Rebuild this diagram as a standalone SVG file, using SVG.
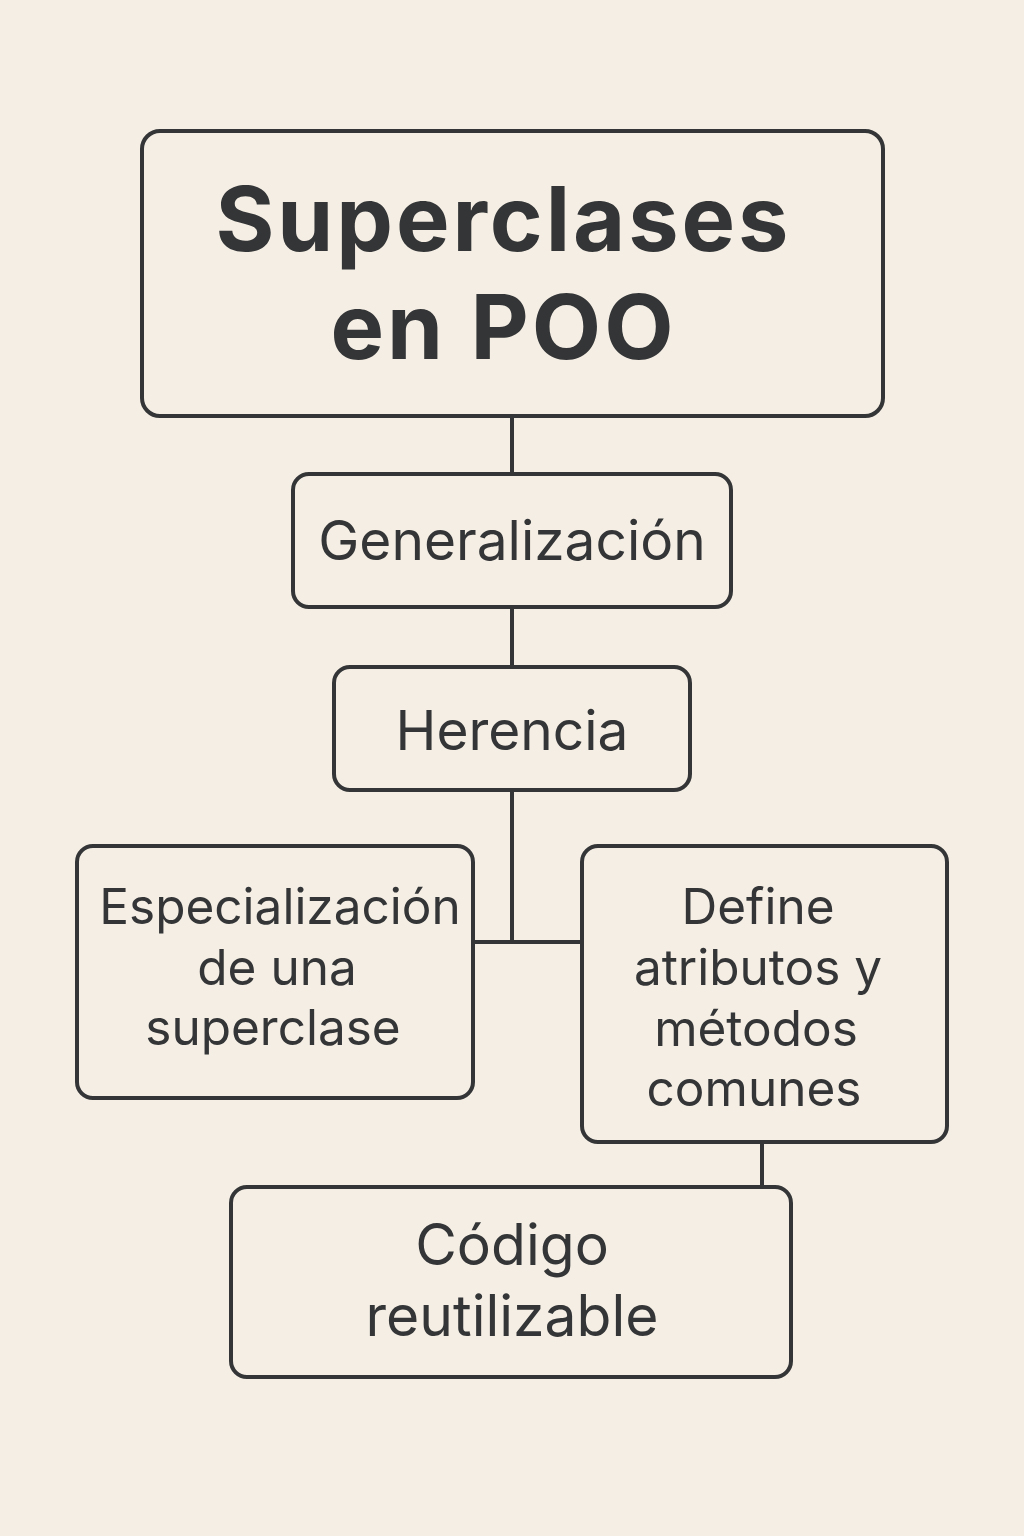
<svg xmlns="http://www.w3.org/2000/svg" width="1024" height="1536" viewBox="0 0 1024 1536">
<style>
.box{fill:none;stroke:#333536;stroke-width:4}
.con{fill:none;stroke:#333536;stroke-width:4}
text{font-family:Inter,"Noto Sans","DejaVu Sans",sans-serif;fill:#333536;text-anchor:middle}
.t{font-size:90px;font-weight:700}
.m{font-size:55px}
.s{font-size:49.5px}
.c{font-size:57px}
</style>
<rect width="1024" height="1536" fill="#f5eee5"/>
<g id="connectors">
<path class="con" d="M512 416V474M512 607V667M512 790V942M473 942H582M762 1142V1187"/>
</g>
<g id="title">
<rect class="box" x="142" y="131" width="741" height="285" rx="18"/>
<text class="t" x="502" y="251" textLength="573" lengthAdjust="spacing">Superclases</text>
<text class="t" x="502" y="359" textLength="343" lengthAdjust="spacing">en POO</text>
</g>
<g id="generalizacion">
<rect class="box" x="293" y="474" width="438" height="133" rx="16"/>
<text class="m" x="512" y="560">Generalización</text>
</g>
<g id="herencia">
<rect class="box" x="334" y="667" width="356" height="123" rx="16"/>
<text class="m" x="512" y="750">Herencia</text>
</g>
<g id="especializacion">
<rect class="box" x="77" y="846" width="396" height="252" rx="16"/>
<text class="s" x="280" y="924">Especialización</text>
<text class="s" x="277" y="985">de una</text>
<text class="s" x="273" y="1045">superclase</text>
</g>
<g id="define">
<rect class="box" x="582" y="846" width="365" height="296" rx="16"/>
<text class="s" x="758" y="924">Define</text>
<text class="s" x="758" y="985">atributos y</text>
<text class="s" x="756" y="1046">métodos</text>
<text class="s" x="754" y="1106">comunes</text>
</g>
<g id="codigo">
<rect class="box" x="231" y="1187" width="560" height="190" rx="16"/>
<text class="c" x="512" y="1265">Código</text>
<text class="c" x="512" y="1336">reutilizable</text>
</g>
</svg>
